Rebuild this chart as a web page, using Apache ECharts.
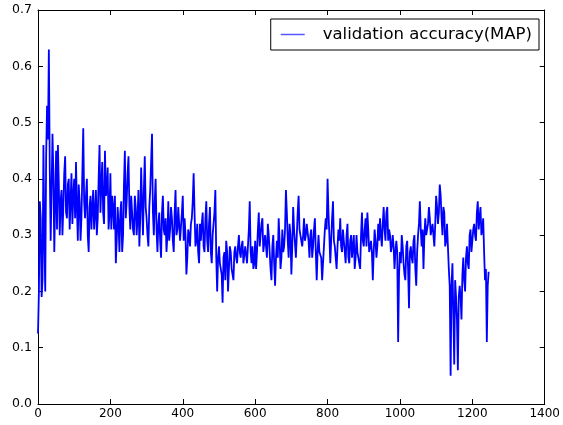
<!DOCTYPE html>
<html>
<head>
<meta charset="utf-8">
<script src="https://cdn.jsdelivr.net/npm/echarts@6/dist/echarts.min.js"></script>
<style>
html,body{margin:0;padding:0;background:#fff;}
#chart{width:563px;height:425px;}
</style>
</head>
<body>
<div id="chart"></div>
<script>
// readings at epochs 0, 5, 10, ... 1245
const sampleStep = 5;
const accuracy = [
  0.125,0.36,0.19,0.46,0.20,0.53,0.63,0.29,0.48,0.27,
  0.45,0.46,0.30,0.38,0.35,0.44,0.33,0.40,0.36,0.32,
  0.40,0.43,0.29,0.36,0.33,0.49,0.33,0.40,0.27,0.37,
  0.35,0.31,0.38,0.33,0.46,0.39,0.34,0.45,0.38,0.31,
  0.41,0.37,0.31,0.25,0.35,0.27,0.36,0.30,0.45,0.36,
  0.44,0.31,0.37,0.30,0.35,0.33,0.28,0.42,0.30,0.44,
  0.33,0.28,0.38,0.48,0.30,0.40,0.27,0.34,0.26,0.37,
  0.30,0.27,0.36,0.31,0.33,0.27,0.38,0.31,0.35,0.29,
  0.37,0.33,0.23,0.31,0.28,0.33,0.41,0.28,0.32,0.25,
  0.29,0.34,0.27,0.36,0.27,0.35,0.25,0.30,0.38,0.20,
  0.28,0.24,0.18,0.27,0.29,0.20,0.28,0.24,0.22,0.28,
  0.25,0.30,0.26,0.29,0.25,0.28,0.25,0.36,0.25,0.24,
  0.29,0.27,0.34,0.28,0.33,0.27,0.30,0.32,0.27,0.22,
  0.30,0.21,0.29,0.33,0.24,0.31,0.28,0.38,0.29,0.32,
  0.23,0.35,0.31,0.30,0.37,0.30,0.28,0.33,0.30,0.32,
  0.26,0.31,0.28,0.33,0.22,0.30,0.27,0.22,0.28,0.33,
  0.40,0.30,0.29,0.36,0.28,0.24,0.31,0.33,0.27,0.31,
  0.25,0.32,0.25,0.30,0.26,0.24,0.30,0.27,0.24,0.34,
  0.28,0.33,0.34,0.27,0.29,0.22,0.31,0.26,0.32,0.33,
  0.28,0.35,0.29,0.35,0.31,0.27,0.30,0.24,0.29,0.11,
  0.27,0.30,0.25,0.22,0.29,0.17,0.28,0.25,0.30,0.21,
  0.30,0.36,0.28,0.24,0.33,0.30,0.35,0.30,0.32,0.28,
  0.37,0.32,0.39,0.33,0.35,0.28,0.32,0.24,0.05,0.25,
  0.07,0.19,0.06,0.21,0.15,0.26,0.20,0.28,0.24,0.31,
  0.27,0.32,0.29,0.36,0.33,0.30,0.33,0.22,0.11,0.235
];
// readings at the in-between epochs 2.5, 7.5, ... 1242.5
const accuracyMid = [
  0.20,0.33,0.22,0.30,0.44,0.47,0.42,0.38,0.41,0.36,
  0.31,0.39,0.36,0.30,0.41,0.34,0.39,0.31,0.41,0.37,
  0.33,0.35,0.39,0.29,0.41,0.36,0.37,0.30,0.35,0.31,
  0.38,0.34,0.30,0.40,0.34,0.43,0.32,0.37,0.42,0.34,
  0.31,0.35,0.37,0.29,0.32,0.34,0.27,0.39,0.33,0.41,
  0.35,0.37,0.31,0.37,0.30,0.38,0.33,0.36,0.38,0.35,
  0.30,0.35,0.43,0.34,0.36,0.31,0.32,0.29,0.34,0.31,
  0.33,0.30,0.29,0.35,0.29,0.34,0.30,0.35,0.29,0.34,
  0.29,0.30,0.26,0.30,0.32,0.36,0.34,0.29,0.27,0.32,
  0.32,0.28,0.33,0.29,0.32,0.27,0.30,0.34,0.26,0.26,
  0.25,0.23,0.26,0.22,0.27,0.24,0.27,0.23,0.27,0.26,
  0.28,0.27,0.28,0.25,0.28,0.25,0.31,0.27,0.28,0.25,
  0.24,0.31,0.28,0.32,0.27,0.30,0.26,0.30,0.24,0.28,
  0.25,0.26,0.26,0.29,0.26,0.27,0.31,0.34,0.26,0.30,
  0.28,0.31,0.26,0.34,0.31,0.30,0.30,0.29,0.32,0.29,
  0.30,0.26,0.31,0.27,0.27,0.27,0.26,0.25,0.31,0.31,
  0.34,0.25,0.33,0.29,0.28,0.28,0.29,0.28,0.31,0.27,
  0.30,0.26,0.29,0.26,0.30,0.26,0.27,0.27,0.30,0.29,
  0.31,0.28,0.31,0.27,0.27,0.27,0.29,0.28,0.29,0.30,
  0.32,0.31,0.34,0.29,0.30,0.28,0.28,0.27,0.27,0.23,
  0.25,0.28,0.23,0.28,0.24,0.27,0.26,0.29,0.24,0.27,
  0.32,0.31,0.31,0.30,0.30,0.32,0.33,0.30,0.32,0.32,
  0.35,0.34,0.37,0.30,0.34,0.29,0.28,0.21,0.21,0.16,
  0.22,0.15,0.19,0.19,0.23,0.22,0.26,0.25,0.30,0.27,
  0.31,0.30,0.34,0.31,0.35,0.31,0.27,0.24,0.21
];
const xTicks = {min: 0, max: 1400, interval: 200};
const yTicks = {min: 0, max: 0.7, interval: 0.1};
const seriesName = 'validation accuracy(MAP)';

const points = [];
accuracy.forEach((v, i) => {
  points.push([i * sampleStep, v]);
  if (i < accuracyMid.length) points.push([i * sampleStep + sampleStep / 2, accuracyMid[i]]);
});

const chart = echarts.init(document.getElementById('chart'), null, {renderer: 'canvas'});
const font = 'DejaVu Sans';
const frameAxisX = (pos, showLabel) => ({
  type: 'value', position: pos, min: xTicks.min, max: xTicks.max, interval: xTicks.interval,
  axisLine: {show: true, onZero: false, lineStyle: {color: '#000', width: 1}},
  axisTick: {show: true, inside: true, length: 5, lineStyle: {color: '#000'}},
  axisLabel: {show: showLabel, color: '#000', fontFamily: font, fontSize: 12, margin: 4,
    formatter: v => String(v)},
  splitLine: {show: false}
});
const frameAxisY = (pos, showLabel) => ({
  type: 'value', position: pos, min: yTicks.min, max: yTicks.max, interval: yTicks.interval,
  axisLine: {show: true, onZero: false, lineStyle: {color: '#000', width: 1}},
  axisTick: {show: true, inside: true, length: 5, lineStyle: {color: '#000'}},
  axisLabel: {show: showLabel, color: '#000', fontFamily: font, fontSize: 12.5, margin: 6,
    formatter: v => v.toFixed(1)},
  splitLine: {show: false}
});
chart.setOption({
  animation: false,
  backgroundColor: '#fff',
  grid: {left: 38, right: 16, top: 10, bottom: 21, containLabel: false},
  xAxis: [frameAxisX('bottom', true), frameAxisX('top', false)],
  yAxis: [frameAxisY('left', true), frameAxisY('right', false)],
  legend: {
    right: 24, top: 19,
    data: [{name: seriesName, icon: 'rect'}],
    backgroundColor: '#fff',
    borderColor: '#000', borderWidth: 1, borderRadius: 0,
    padding: [7, 7, 7, 10],
    itemWidth: 24, itemHeight: 1.5,
    itemStyle: {color: '#5555ff'},
    textStyle: {color: '#000', fontFamily: font, fontSize: 16.5, padding: [0, 0, 0, 13]}
  },
  series: [{
    name: seriesName,
    type: 'line',
    xAxisIndex: 0, yAxisIndex: 0,
    data: points,
    symbol: 'none',
    showSymbol: false,
    lineStyle: {color: '#0000ff', width: 1.8},
    itemStyle: {color: '#0000ff'}
  }]
});
</script>
</body>
</html>
